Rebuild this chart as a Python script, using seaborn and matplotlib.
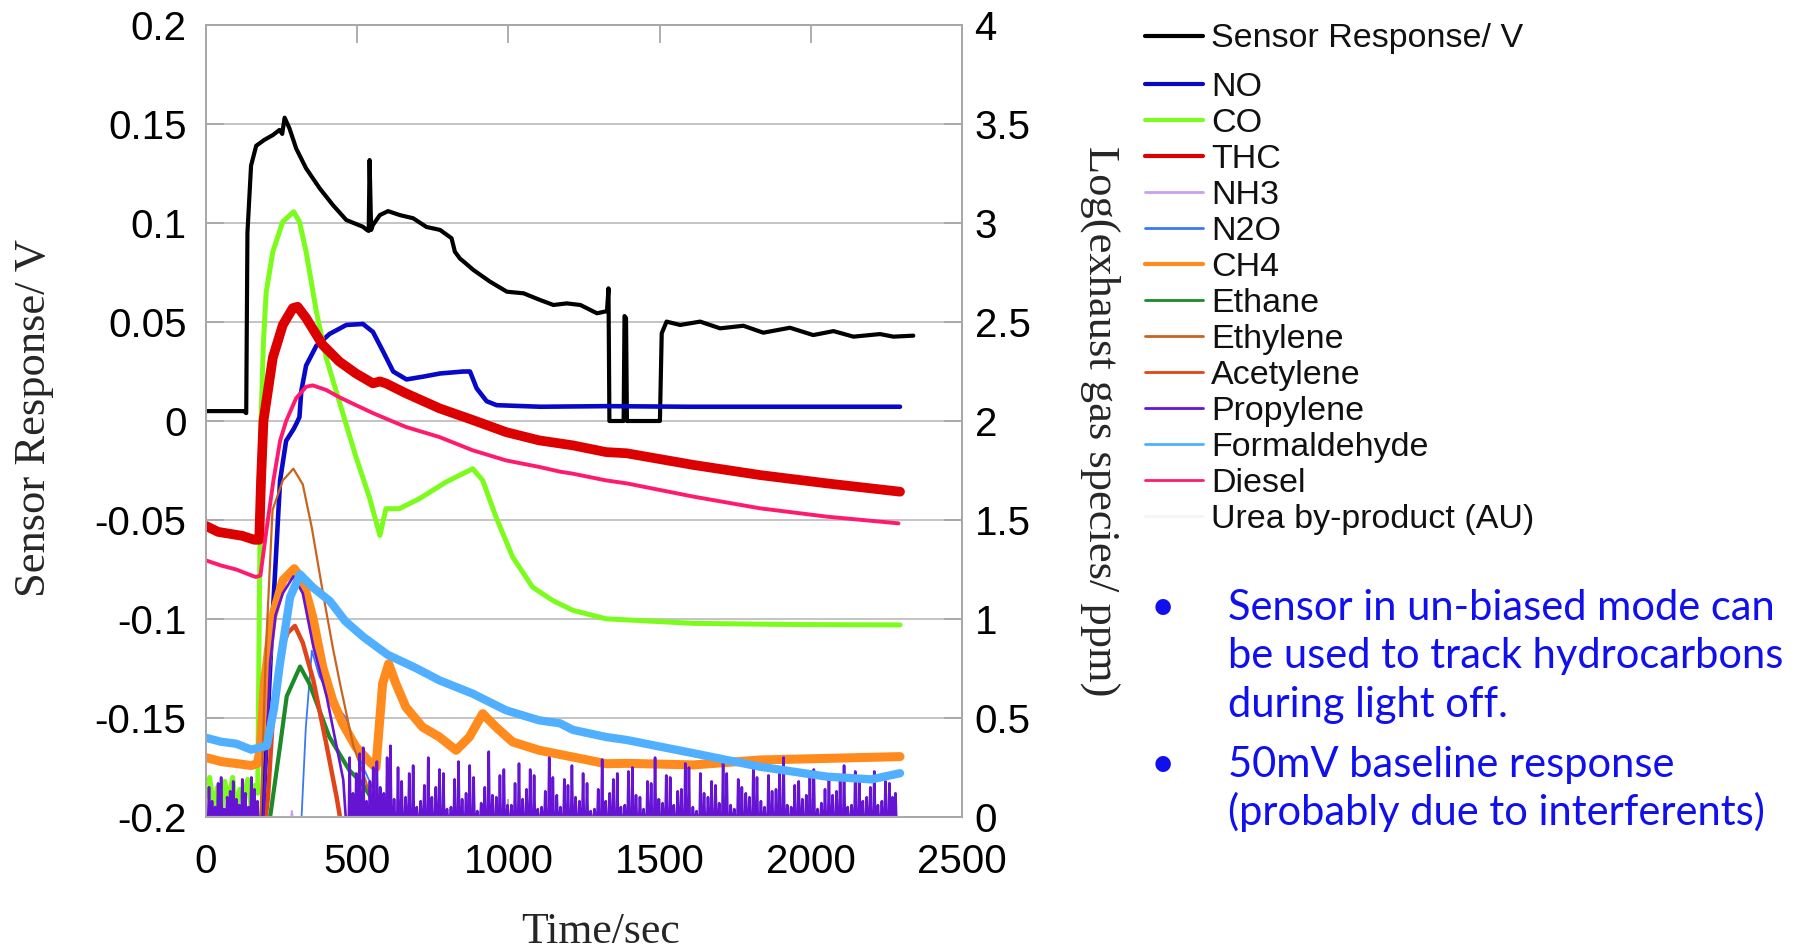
import numpy as np
import pandas as pd
import matplotlib
matplotlib.use("Agg")
import matplotlib.pyplot as plt
import seaborn as sns
from matplotlib.lines import Line2D

# ---------------- data ----------------
# Sensor response (left axis, V)
sensor_t = [0, 125, 133, 137, 149, 166, 193, 221, 243, 252, 260, 276, 298, 331, 376, 420, 464,
            519, 532, 538, 541, 546, 552, 575, 602, 641, 685, 729, 774, 812, 823, 840, 856, 884,
            939, 995, 1050, 1105, 1149, 1193, 1238, 1293, 1326, 1331, 1334, 1381, 1384, 1389, 1392,
            1501, 1507, 1523, 1568, 1634, 1700, 1777, 1843, 1931, 2008, 2075, 2141, 2229, 2273, 2339]
sensor_v = [0.005, 0.005, 0.004, 0.095, 0.129, 0.139, 0.142, 0.1444, 0.147, 0.145, 0.1532, 0.1478,
            0.1377, 0.1276, 0.1175, 0.109, 0.1015, 0.0981, 0.0965, 0.0960, 0.1318, 0.0965, 0.099,
            0.104, 0.106, 0.104, 0.1024, 0.098, 0.0965, 0.0923, 0.0855, 0.082, 0.080, 0.0763,
            0.0704, 0.0653, 0.0645, 0.0611, 0.0586, 0.0594, 0.0586, 0.0544, 0.0555, 0.067, 0.0,
            0.0, 0.053, 0.052, 0.0, 0.0, 0.0443, 0.0502, 0.0485, 0.0502, 0.0468, 0.0481, 0.0446,
            0.0471, 0.0434, 0.0454, 0.0426, 0.0439, 0.0426, 0.0431]

# Species (right axis, log ppm)
no_t = [188, 220, 245, 265, 290, 300, 309, 315, 331, 365, 409, 464, 519, 552, 586, 619, 663, 718,
        774, 851, 873, 895, 928, 961, 1105, 1326, 1600, 2000, 2295]
no_r = [0.0, 1.0, 1.70, 1.90, 1.96, 1.99, 2.02, 2.15, 2.28, 2.38, 2.44, 2.485, 2.49, 2.45, 2.35,
        2.25, 2.21, 2.224, 2.24, 2.25, 2.25, 2.165, 2.10, 2.08, 2.072, 2.075, 2.072, 2.072, 2.072]

co_t = [0, 12, 25, 38, 50, 62, 75, 88, 100, 112, 125, 138, 150, 162, 171, 176, 182, 190, 199,
        221, 254, 290, 309, 331, 365, 398, 431, 464, 496, 540, 575, 595, 639, 705, 794, 882, 915,
        959, 1014, 1080, 1146, 1213, 1323, 1612, 1942, 2295]
co_r = [0.10, 0.20, 0.05, 0.15, 0.0, 0.18, 0.08, 0.20, 0.03, 0.14, 0.10, 0.19, 0.04, 0.16, 0.12,
        1.0, 2.0, 2.4, 2.65, 2.855, 3.007, 3.057, 3.007, 2.855, 2.552, 2.316, 2.148, 1.98, 1.818,
        1.616, 1.422, 1.557, 1.557, 1.607, 1.692, 1.759, 1.70, 1.515, 1.313, 1.161, 1.094, 1.044,
        1.001, 0.978, 0.972, 0.97]

thc_t = [0, 40, 80, 120, 160, 176, 182, 190, 221, 254, 287, 303, 331, 386, 441, 496, 552, 575,
         595, 661, 772, 882, 992, 1102, 1213, 1323, 1391, 1612, 1832, 2053, 2295]
thc_r = [1.47, 1.44, 1.43, 1.42, 1.40, 1.40, 1.70, 2.0, 2.32, 2.485, 2.57, 2.577, 2.52, 2.384,
         2.30, 2.24, 2.19, 2.20, 2.19, 2.14, 2.064, 2.005, 1.944, 1.902, 1.877, 1.843, 1.837,
         1.778, 1.727, 1.685, 1.643]

nh3_t = [278, 284, 290]
nh3_r = [-0.05, 0.03, -0.05]

n2o_t = [310, 316, 330, 350, 375, 419, 463, 520, 580, 600]
n2o_r = [-0.2, 0.0, 0.45, 0.84, 0.71, 0.59, 0.50, 0.25, 0.05, -0.1]

ch4_t = [0, 50, 100, 150, 170, 180, 193, 220, 254, 292, 320, 353, 386, 419, 452, 496, 540, 562,
         584, 604, 628, 661, 716, 772, 827, 871, 915, 959, 1014, 1102, 1213, 1323, 1391, 1612,
         1832, 2053, 2295]
ch4_r = [0.30, 0.28, 0.27, 0.26, 0.27, 0.35, 0.673, 1.01, 1.195, 1.254, 1.195, 1.01, 0.757,
         0.589, 0.471, 0.353, 0.28, 0.25, 0.673, 0.774, 0.673, 0.555, 0.454, 0.404, 0.337, 0.404,
         0.522, 0.454, 0.379, 0.337, 0.303, 0.269, 0.271, 0.263, 0.288, 0.296, 0.305]

ethane_t = [205, 212, 245, 267, 311, 342, 375, 408, 441, 474, 518, 551, 565, 580]
ethane_r = [-0.2, 0.0, 0.36, 0.61, 0.76, 0.673, 0.539, 0.404, 0.32, 0.236, 0.168, 0.084, 0.06, -0.1]

ethylene_t = [175, 185, 198, 220, 254, 289, 320, 350, 388, 420, 445, 487, 520, 545, 562]
ethylene_r = [-0.2, 0.2, 0.84, 1.55, 1.70, 1.759, 1.68, 1.46, 1.12, 0.85, 0.66, 0.36, 0.22, 0.10, 0.0]

acetylene_t = [190, 205, 223, 245, 270, 294, 320, 355, 399, 432, 443, 450]
acetylene_r = [-0.1, 0.10, 0.55, 0.82, 0.93, 0.965, 0.88, 0.69, 0.36, 0.10, 0.0, -0.1]

propylene_t = [186, 190, 201, 212, 230, 254, 289, 320, 355, 399, 432, 454, 462]
propylene_r = [0.0, 0.0, 0.36, 0.78, 1.02, 1.13, 1.215, 1.13, 0.86, 0.608, 0.355, 0.187, 0.0]
# noise spikes of the propylene trace (start-up period and tail)
propylene_spike_t = [10, 30, 50, 70, 90, 110, 130, 150, 170,
                     475, 497, 520, 542, 565, 588, 610, 635, 660, 685, 710, 735, 760, 785, 810,
                     835, 860, 885, 910, 935, 960, 985, 1010, 1035, 1060, 1085, 1110, 1135, 1160,
                     1185, 1210, 1235, 1260, 1285, 1310, 1335, 1360, 1385, 1410, 1435, 1460, 1485,
                     1510, 1535, 1560, 1585, 1610, 1635, 1660, 1685, 1710, 1735, 1760, 1785, 1810,
                     1835, 1860, 1885, 1910, 1935, 1960, 1985, 2010, 2035, 2060, 2085, 2110, 2135,
                     2160, 2185, 2210, 2235, 2260, 2280]
propylene_spike_r = [0.15, 0.05, 0.20, 0.10, 0.18, 0.06, 0.12, 0.20, 0.08,
                     0.30, 0.22, 0.35, 0.18, 0.28, 0.12, 0.36, 0.25, 0.10, 0.26, 0.08, 0.30, 0.15,
                     0.22, 0.05, 0.28, 0.12, 0.20, 0.07, 0.33, 0.10, 0.24, 0.06, 0.27, 0.14, 0.21,
                     0.05, 0.30, 0.11, 0.19, 0.26, 0.08, 0.17, 0.04, 0.29, 0.12, 0.22, 0.06, 0.25,
                     0.10, 0.18, 0.30, 0.07, 0.20, 0.13, 0.27, 0.05, 0.22, 0.10, 0.16, 0.28, 0.06,
                     0.19, 0.12, 0.25, 0.08, 0.21, 0.14, 0.30, 0.05, 0.18, 0.11, 0.24, 0.07, 0.20,
                     0.13, 0.26, 0.06, 0.19, 0.10, 0.23, 0.08, 0.17, 0.12]
propylene_spike2_t = [20, 40, 60, 80, 100, 120, 140, 160,
                      486, 508, 531, 553, 576, 599, 622, 647, 672, 697, 722, 747, 772, 797, 822,
                      847, 872, 897, 922, 947, 972, 997, 1022, 1047, 1072, 1097, 1122, 1147, 1172,
                      1197, 1222, 1247, 1272, 1297, 1322, 1347, 1372, 1397, 1422, 1447, 1472, 1497,
                      1522, 1547, 1572, 1597, 1622, 1647, 1672, 1697, 1722, 1747, 1772, 1797, 1822,
                      1847, 1872, 1897, 1922, 1947, 1972, 1997, 2022, 2047, 2072, 2097, 2122, 2147,
                      2172, 2197, 2222, 2247, 2270]
propylene_spike2_r = [0.08, 0.17, 0.04, 0.13, 0.09, 0.19, 0.05, 0.14,
                      0.12, 0.32, 0.08, 0.25, 0.15, 0.30, 0.09, 0.18, 0.22, 0.05, 0.16, 0.10,
                      0.24, 0.04, 0.19, 0.09, 0.26, 0.03, 0.15, 0.11, 0.21, 0.06, 0.17, 0.09,
                      0.24, 0.04, 0.13, 0.20, 0.05, 0.16, 0.10, 0.22, 0.03, 0.14, 0.08, 0.19,
                      0.05, 0.23, 0.11, 0.04, 0.17, 0.09, 0.21, 0.06, 0.14, 0.25, 0.03, 0.12,
                      0.18, 0.07, 0.22, 0.04, 0.15, 0.10, 0.20, 0.05, 0.13, 0.24, 0.06, 0.16,
                      0.09, 0.21, 0.04, 0.14, 0.11, 0.19, 0.05, 0.23, 0.08, 0.15, 0.06, 0.18, 0.10]

formaldehyde_t = [0, 50, 100, 150, 175, 201, 225, 245, 278, 311, 353, 410, 460, 520, 600, 697,
                  772, 882, 992, 1102, 1171, 1213, 1323, 1391, 1612, 1832, 2053, 2200, 2295]
formaldehyde_r = [0.40, 0.38, 0.37, 0.34, 0.35, 0.36, 0.55, 0.78, 1.11, 1.225, 1.16, 1.09, 0.99,
                  0.91, 0.82, 0.75, 0.69, 0.623, 0.539, 0.488, 0.473, 0.44, 0.404, 0.389, 0.322,
                  0.254, 0.204, 0.19, 0.221]

diesel_t = [0, 50, 100, 150, 165, 180, 200, 223, 245, 265, 298, 331, 353, 397, 441, 496, 552,
            606, 661, 772, 882, 992, 1102, 1171, 1213, 1323, 1391, 1612, 1832, 2053, 2290]
diesel_r = [1.296, 1.27, 1.25, 1.22, 1.212, 1.22, 1.45, 1.70, 1.90, 2.0, 2.115, 2.173, 2.18,
            2.157, 2.12, 2.08, 2.04, 2.005, 1.97, 1.919, 1.852, 1.801, 1.768, 1.744, 1.734, 1.70,
            1.685, 1.618, 1.559, 1.517, 1.483]

urea_t = [0, 2300]
urea_r = [0.0, 0.0]

left_ticks = [-0.2, -0.15, -0.1, -0.05, 0, 0.05, 0.1, 0.15, 0.2]
left_labels = ["-0.2", "-0.15", "-0.1", "-0.05", "0", "0.05", "0.1", "0.15", "0.2"]
right_ticks = [0, 0.5, 1, 1.5, 2, 2.5, 3, 3.5, 4]
right_labels = ["0", "0.5", "1", "1.5", "2", "2.5", "3", "3.5", "4"]
x_ticks = [0, 500, 1000, 1500, 2000, 2500]
x_labels = ["0", "500", "1000", "1500", "2000", "2500"]

bullet_lines = [["Sensor in un-biased mode can", "be used to track hydrocarbons", "during light off."],
                ["50mV baseline response", "(probably due to interferents)"]]

# ---------------- styling ----------------
sns.set_theme(style="white")
plt.rcParams["font.family"] = ["Liberation Sans", "DejaVu Sans"]
plt.rcParams["axes.unicode_minus"] = False

W, H = 1796, 951
fig = plt.figure(figsize=(W / 100, H / 100), dpi=100)
fig.patch.set_facecolor("white")

def fx(px):
    return px / W

def fy(py):
    return 1 - py / H

ax = fig.add_axes([fx(206), fy(817), (962 - 206) / W, (817 - 25) / H])
ax2 = ax.twinx()

grey = "#A8A8A8"
for a in (ax, ax2):
    for s in a.spines.values():
        s.set_color(grey)
        s.set_linewidth(1.3)

ax.set_xlim(0, 2500)
ax.set_ylim(-0.2, 0.2)
ax2.set_ylim(0, 4)
ax.set_yticks(left_ticks)
ax.set_yticklabels(left_labels)
ax2.set_yticks(right_ticks)
ax2.set_yticklabels(right_labels)
ax.set_xticks(x_ticks)
ax.set_xticklabels(x_labels)

ax.grid(axis="y", color="#C4C4C4", linewidth=1.4)
ax.grid(axis="x", visible=False)
ax2.grid(False)

ax.tick_params(axis="y", direction="in", length=13, width=1.3, color=grey,
               labelsize=29, pad=14, left=True, right=False, labelcolor="black")
ax.tick_params(axis="x", direction="in", length=13, width=1.3, color=grey,
               labelsize=29, pad=19, top=True, bottom=True, labelcolor="black")
ax2.tick_params(axis="y", direction="in", length=13, width=1.3, color=grey,
                labelsize=29, pad=9, right=True, labelcolor="black")

# ---------------- series ----------------
def spikes(ts, hs, half=2.5):
    tt, rr = [], []
    for ti, hi in zip(ts, hs):
        tt += [ti - half, ti, ti + half]
        rr += [0.0, hi, 0.0]
    return tt, rr

pairs = sorted(list(zip(propylene_spike_t, propylene_spike_r)) +
               list(zip(propylene_spike2_t, propylene_spike2_r)))
early = [p for p in pairs if p[0] < propylene_t[0]]
late = [p for p in pairs if p[0] > propylene_t[-1]]
e_t, e_r = spikes([p[0] for p in early], [p[1] for p in early])
l_t, l_r = spikes([p[0] for p in late], [p[1] for p in late])
prop_t = e_t + propylene_t + l_t
prop_r = e_r + propylene_r + l_r

series = [
    ("NO", no_t, no_r, "#0808C8", 3.3),
    ("CO", co_t, co_r, "#7CFC1C", 3.6),
    ("THC", thc_t, thc_r, "#DC0000", 7.0),
    ("NH3", nh3_t, nh3_r, "#C8A0EC", 1.5),
    ("N2O", n2o_t, n2o_r, "#3A78F8", 1.3),
    ("CH4", ch4_t, ch4_r, "#FF8A1E", 6.5),
    ("Ethane", ethane_t, ethane_r, "#1C8A28", 3.0),
    ("Ethylene", ethylene_t, ethylene_r, "#C8641E", 1.6),
    ("Acetylene", acetylene_t, acetylene_r, "#E04418", 3.2),
    ("Propylene", prop_t, prop_r, "#6614D4", 1.9),
    ("Formaldehyde", formaldehyde_t, formaldehyde_r, "#50B0FF", 6.0),
    ("Diesel", diesel_t, diesel_r, "#FF1A6E", 2.8),
    ("Urea by-product (AU)", urea_t, urea_r, "#F4F4F4", 1.5),
]
legend_lw = {"NO": 3.0, "CO": 3.0, "THC": 3.0, "CH4": 3.0}

sns.lineplot(x=sensor_t, y=sensor_v, ax=ax, color="black", linewidth=3.0,
             sort=False, estimator=None)
for name, t, r, c, lw in series:
    sns.lineplot(x=t, y=r, ax=ax2, color=c, linewidth=lw, sort=False, estimator=None)

ax.set_xlabel("")
ax.set_ylabel("")
ax2.set_ylabel("")

# ---------------- axis titles ----------------
serif = ["Liberation Serif", "DejaVu Serif"]
fig.text(fx(34), fy(418), "Sensor Response/ V", rotation=90, ha="center", va="center",
         fontsize=32, family=serif)
fig.text(fx(1100), fy(421), "Log(exhaust gas species/ ppm)", rotation=270, ha="center",
         va="center", fontsize=32, family=serif)
fig.text(fx(601), fy(932), "Time/sec", ha="center", va="center", fontsize=31.5, family=serif)

# ---------------- legend ----------------
leg_items = [("Sensor Response/ V", "black", 3.0)] + \
            [(s[0], s[3], legend_lw.get(s[0], 2.0)) for s in series]
leg_y = [35.5] + [83.6 + 36.0 * i for i in range(len(series))]
for (label, c, lw), yc in zip(leg_items, leg_y):
    fig.add_artist(Line2D([fx(1145), fx(1203)], [fy(yc), fy(yc)], color=c, linewidth=lw))
    fig.text(fx(1211), fy(yc + 12), label, ha="left", va="baseline", fontsize=24.5,
             color="#111111")

# ---------------- bullet notes ----------------
blue = "#1010EE"
baselines = [[620, 668, 717], [777, 825]]
fig.canvas.draw()
renderer = fig.canvas.get_renderer()
probe = fig.text(0, 0, bullet_lines[0][1], fontsize=30, family=["Lato", "DejaVu Sans"])
wpx = probe.get_window_extent(renderer).width
probe.remove()
fs = 30 * 555.0 / wpx
for block, bls in zip(bullet_lines, baselines):
    fig.text(fx(1163), fy(bls[0]), "\u2022", ha="center", va="baseline", fontsize=fs,
             color=blue, family=["Lato", "DejaVu Sans"])
    for line, b in zip(block, bls):
        fig.text(fx(1228), fy(b), line, ha="left", va="baseline", fontsize=fs, color=blue,
                 family=["Lato", "DejaVu Sans"])

fig.savefig("out.png", dpi=100, facecolor="white")
